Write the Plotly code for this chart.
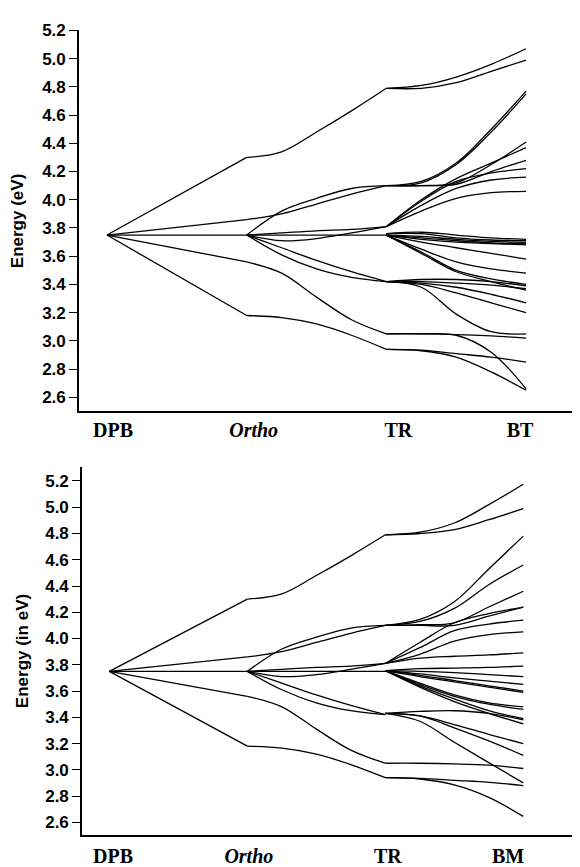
import plotly.graph_objects as go

# ---------------- data ----------------
stages_top = ["DPB", "Ortho", "TR", "BT"]
stages_bottom = ["DPB", "Ortho", "TR", "BM"]

# fractional sample positions within each curved segment
seg_steps = [0.0, 0.25, 0.5, 0.75, 1.0]

dpb_energy = 3.75
ortho_levels = [4.30, 3.86, 3.75, 3.56, 3.18]

# Ortho -> TR curves (shared by both panels)
ortho_tr_curves = [
    [4.30, 4.34, 4.48, 4.63, 4.79],
    [3.86, 3.90, 3.97, 4.04, 4.10],
    [3.75, 3.92, 4.01, 4.08, 4.10],
    [3.75, 3.765, 3.78, 3.79, 3.81],
    [3.75, 3.75, 3.75, 3.75, 3.75],
    [3.75, 3.71, 3.725, 3.765, 3.81],
    [3.75, 3.66, 3.57, 3.49, 3.42],
    [3.75, 3.61, 3.51, 3.45, 3.42],
    [3.56, 3.48, 3.31, 3.15, 3.05],
    [3.18, 3.165, 3.12, 3.04, 2.94],
]

# TR -> BT curves (top panel)
tr_bt_curves = [
    [4.79, 4.81, 4.87, 4.96, 5.07],
    [4.79, 4.79, 4.83, 4.91, 4.99],
    [4.10, 4.13, 4.26, 4.50, 4.77],
    [4.10, 4.12, 4.25, 4.48, 4.75],
    [4.10, 4.10, 4.12, 4.25, 4.41],
    [4.10, 4.10, 4.11, 4.20, 4.28],
    [3.81, 4.00, 4.15, 4.26, 4.37],
    [3.81, 3.99, 4.13, 4.19, 4.22],
    [3.81, 3.96, 4.08, 4.14, 4.16],
    [3.81, 3.92, 4.01, 4.05, 4.06],
    [3.76, 3.77, 3.75, 3.73, 3.72],
    [3.76, 3.76, 3.73, 3.715, 3.71],
    [3.75, 3.74, 3.72, 3.705, 3.70],
    [3.75, 3.73, 3.71, 3.695, 3.69],
    [3.75, 3.72, 3.70, 3.69, 3.68],
    [3.75, 3.70, 3.66, 3.62, 3.58],
    [3.75, 3.65, 3.56, 3.51, 3.48],
    [3.75, 3.63, 3.50, 3.44, 3.40],
    [3.75, 3.62, 3.49, 3.42, 3.36],
    [3.42, 3.435, 3.435, 3.42, 3.39],
    [3.42, 3.42, 3.41, 3.395, 3.37],
    [3.42, 3.41, 3.38, 3.33, 3.27],
    [3.42, 3.40, 3.34, 3.27, 3.20],
    [3.42, 3.38, 3.19, 3.065, 3.05],
    [3.05, 3.05, 3.045, 3.035, 3.02],
    [3.05, 3.05, 3.04, 2.92, 2.66],
    [2.94, 2.935, 2.91, 2.885, 2.85],
    [2.94, 2.93, 2.885, 2.78, 2.65],
]

# TR -> BM curves (bottom panel)
tr_bm_curves = [
    [4.79, 4.81, 4.88, 5.02, 5.175],
    [4.79, 4.80, 4.83, 4.905, 4.99],
    [4.10, 4.145, 4.28, 4.53, 4.78],
    [4.10, 4.13, 4.23, 4.41, 4.56],
    [4.10, 4.105, 4.12, 4.24, 4.36],
    [4.10, 4.10, 4.10, 4.17, 4.24],
    [3.81, 3.97, 4.12, 4.19, 4.24],
    [3.81, 3.93, 4.06, 4.11, 4.14],
    [3.81, 3.88, 3.98, 4.03, 4.05],
    [3.81, 3.85, 3.865, 3.875, 3.89],
    [3.755, 3.77, 3.775, 3.78, 3.79],
    [3.755, 3.75, 3.74, 3.725, 3.71],
    [3.755, 3.73, 3.70, 3.675, 3.65],
    [3.755, 3.72, 3.68, 3.64, 3.60],
    [3.755, 3.71, 3.67, 3.63, 3.59],
    [3.755, 3.66, 3.57, 3.51, 3.48],
    [3.755, 3.65, 3.56, 3.50, 3.46],
    [3.755, 3.64, 3.54, 3.45, 3.39],
    [3.755, 3.63, 3.52, 3.43, 3.35],
    [3.43, 3.445, 3.45, 3.43, 3.38],
    [3.43, 3.41, 3.345, 3.27, 3.20],
    [3.43, 3.41, 3.32, 3.22, 3.11],
    [3.43, 3.37, 3.21, 3.055, 2.90],
    [3.05, 3.05, 3.045, 3.035, 3.01],
    [2.94, 2.935, 2.92, 2.905, 2.88],
    [2.94, 2.93, 2.885, 2.79, 2.645],
]

y_tick_vals = [2.6, 2.8, 3.0, 3.2, 3.4, 3.6, 3.8, 4.0, 4.2, 4.4, 4.6, 4.8, 5.0, 5.2]


# ---------------- build figure ----------------
def panel_xy(last_curves):
    xs, ys = [], []
    # DPB -> Ortho straight lines
    for lv in ortho_levels:
        xs += [0, 1, None]
        ys += [dpb_energy, lv, None]
    # Ortho -> TR
    for c in ortho_tr_curves:
        xs += [1 + s for s in seg_steps] + [None]
        ys += list(c) + [None]
    # TR -> end
    for c in last_curves:
        xs += [2 + s for s in seg_steps] + [None]
        ys += list(c) + [None]
    return xs, ys


fig = go.Figure()
for curves, xa, ya in [(tr_bt_curves, "x", "y"), (tr_bm_curves, "x2", "y2")]:
    xs, ys = panel_xy(curves)
    fig.add_trace(go.Scatter(
        x=xs, y=ys, mode="lines", xaxis=xa, yaxis=ya,
        line=dict(color="black", width=1.3, shape="spline", smoothing=1.0),
        connectgaps=False, hoverinfo="skip", showlegend=False,
    ))


def ticktexts(stages):
    out = []
    for s in stages:
        if s == "Ortho":
            out.append("<b><i>%s</i></b>" % s)
        else:
            out.append("<b>%s</b>" % s)
    return out


# small placement nudges of the stage labels, as in the original artwork
label_nudge_top = [0.043, 0.05, 0.086, -0.043]
label_nudge_bottom = [0.027, 0.011, 0.018, -0.11]

xcommon = dict(
    showline=True, linecolor="black", linewidth=1.6, ticks="",
    showgrid=False, zeroline=False,
    tickfont=dict(family="Liberation Serif, Times New Roman, serif", size=20, color="black"),
)
ycommon = dict(
    showline=True, linecolor="black", linewidth=1.6, ticks="outside",
    ticklen=8, tickwidth=1.4, tickcolor="black", showgrid=False, zeroline=False,
    tickvals=y_tick_vals, tickformat=".1f",
    tickfont=dict(family="Liberation Sans, Arial, sans-serif", size=17, color="black", weight="bold"),
)
title_font = dict(family="Liberation Sans, Arial, sans-serif", size=17, color="black", weight="bold")

fig.update_layout(
    width=572, height=859,
    margin=dict(l=0, r=0, t=0, b=0),
    paper_bgcolor="white", plot_bgcolor="white",
    xaxis=dict(xcommon, domain=[0.1241, 1.0], range=[-0.2004, 3.386],
               tickvals=[i + d for i, d in enumerate(label_nudge_top)],
               ticktext=ticktexts(stages_top), ticklabelstandoff=0, anchor="y"),
    yaxis=dict(ycommon, domain=[0.5332, 0.9841], range=[2.5, 5.2], anchor="x",
               title=dict(text="Energy (eV)", standoff=14, font=title_font)),
    xaxis2=dict(xcommon, domain=[0.1294, 1.0], range=[-0.198, 3.411],
                tickvals=[i + d for i, d in enumerate(label_nudge_bottom)],
                ticktext=ticktexts(stages_bottom), ticklabelstandoff=2, anchor="y2"),
    yaxis2=dict(ycommon, domain=[0.03143, 0.46799], range=[2.5, 5.31], anchor="x2",
                title=dict(text="Energy (in eV)", standoff=12, font=title_font)),
)

fig.write_html("out.html")
